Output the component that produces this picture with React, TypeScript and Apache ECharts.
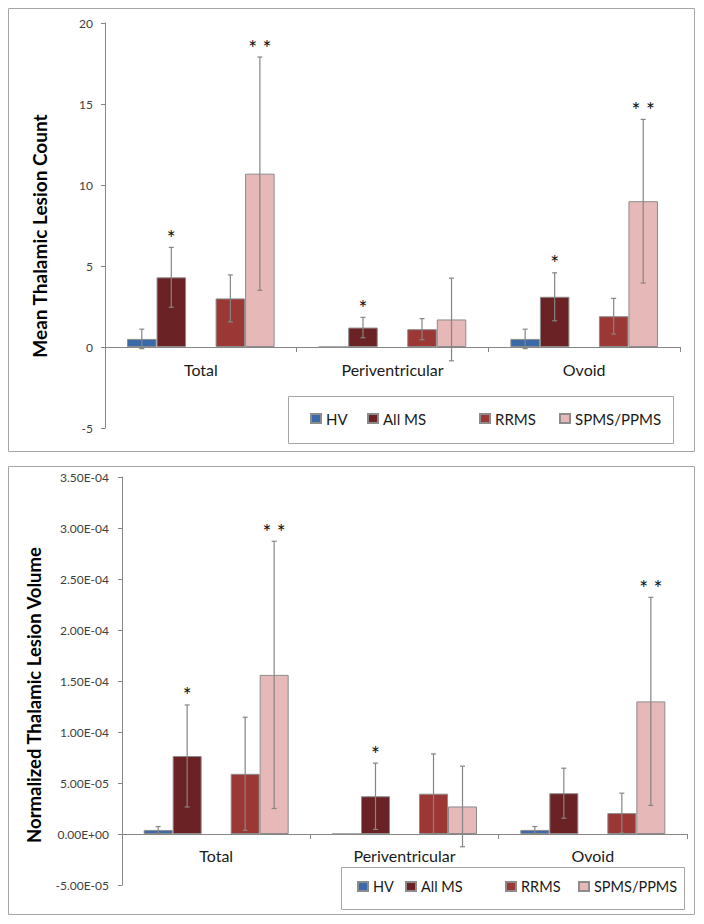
import React, { useEffect, useRef } from "react";
import * as echarts from "echarts";

const categories = ["Total", "Periventricular", "Ovoid"];
const seriesNames = ["HV", "All MS", "RRMS", "SPMS/PPMS"];

// Mean thalamic lesion count
const countHV = [0.5, 0, 0.5];
const countHVErr = [0.6, 0, 0.6];
const countAllMS = [4.3, 1.2, 3.1];
const countAllMSErr = [1.85, 0.63, 1.48];
const countRRMS = [3.0, 1.1, 1.9];
const countRRMSErr = [1.45, 0.65, 1.1];
const countSP = [10.7, 1.7, 9.0];
const countSPErr = [7.2, 2.55, 5.05];
const countStarsAllMS = ["*", "*", "*"];
const countStarsSP = ["**", "", "**"];

// Normalized thalamic lesion volume
const volHV = [4e-6, 0, 4e-6];
const volHVErr = [3.3e-6, 0, 3.3e-6];
const volAllMS = [7.65e-5, 3.7e-5, 4.0e-5];
const volAllMSErr = [5.0e-5, 3.25e-5, 2.45e-5];
const volRRMS = [5.9e-5, 3.95e-5, 2.05e-5];
const volRRMSErr = [5.55e-5, 3.9e-5, 1.95e-5];
const volSP = [1.56e-4, 2.7e-5, 1.3e-4];
const volSPErr = [1.31e-4, 3.95e-5, 1.02e-4];
const volStarsAllMS = ["*", "*", ""];
const volStarsSP = ["**", "", "**"];

const countTicks = { min: -5, max: 20, interval: 5 };
const volTicks = { min: -0.00005, max: 0.00035, interval: 0.00005 };

const COLORS = ["#3a6aa8", "#6a2224", "#9b3735", "#e6b8b7"];
const FONT = "Lato, 'Open Sans', sans-serif";
const CAT_GAP = 0.23;

function sci(v: number): string {
  if (Math.abs(v) < 1e-12) return "0.00E+00";
  const s = v.toExponential(2);
  const parts = s.split("e");
  const sign = parts[1][0] === "-" ? "-" : "+";
  const d = parts[1].replace(/[+-]/, "");
  return parts[0] + "E" + sign + (d.length < 2 ? "0" + d : d);
}

type Group = {
  vals: number[][];
  errs: number[][];
  stars: string[][];
};

function buildErrData(g: Group) {
  // slots: HV=0, All MS=1, (empty)=2, RRMS=3, SPMS=4
  const slots = [0, 1, 3, 4];
  const data: any[] = [];
  const starList: string[] = [];
  g.vals.forEach((arr, si) => {
    arr.forEach((v, ci) => {
      const e = g.errs[si][ci];
      const star = g.stars[si] ? g.stars[si][ci] : "";
      if (e > 0 || star) {
        data.push([ci, v, e, slots[si]]);
        starList.push(star);
      }
    });
  });
  return { data, starList };
}

export default function App() {
  const ref = useRef<HTMLDivElement>(null);
  useEffect(() => {
    if (!ref.current) return;
    const chart = echarts.init(ref.current, undefined, { renderer: "svg" });

    const blank = ["", "", ""];
    const top: Group = {
      vals: [countHV, countAllMS, countRRMS, countSP],
      errs: [countHVErr, countAllMSErr, countRRMSErr, countSPErr],
      stars: [blank, countStarsAllMS, blank, countStarsSP],
    };
    const bot: Group = {
      vals: [volHV, volAllMS, volRRMS, volSP],
      errs: [volHVErr, volAllMSErr, volRRMSErr, volSPErr],
      stars: [blank, volStarsAllMS, blank, volStarsSP],
    };

    const makeErrSeries = (g: Group, gi: number) => {
      const { data, starList } = buildErrData(g);
      return {
        type: "custom",
        xAxisIndex: gi,
        yAxisIndex: gi,
        z: 5,
        silent: true,
        encode: { x: 0, y: 1 },
        data,
        renderItem: (params: any, api: any) => {
          const cat = api.value(0);
          const v = api.value(1);
          const e = api.value(2);
          const slot = api.value(3);
          const band = api.size([1, 0])[0];
          const bw = (band * (1 - CAT_GAP)) / 5;
          const c = api.coord([cat, v]);
          const x = c[0] + (slot - 2) * bw;
          const yT = api.coord([cat, v + e])[1];
          const yB = api.coord([cat, v - e])[1];
          const st = { stroke: "#858585", lineWidth: 1.2 };
          const children: any[] = [];
          if (e > 0) {
            children.push(
              { type: "line", shape: { x1: x, y1: yT, x2: x, y2: yB }, style: st },
              { type: "line", shape: { x1: x - 2.5, y1: yT, x2: x + 2.5, y2: yT }, style: st },
              { type: "line", shape: { x1: x - 2.5, y1: yB, x2: x + 2.5, y2: yB }, style: st }
            );
          }
          const star = starList[params.dataIndex];
          if (star) {
            children.push({
              type: "text",
              x: x,
              y: yT - 10,
              style: {
                text: star.split("").join(" "),
                fontFamily: FONT,
                fontSize: 21,
                fill: "#111111",
                stroke: "none",
                align: "center",
                verticalAlign: "middle",
              },
            });
          }
          return { type: "group", children };
        },
      };
    };

    const makeBars = (g: Group, gi: number) => {
      const names = [seriesNames[0], seriesNames[1], "", seriesNames[2], seriesNames[3]];
      const vals = [g.vals[0], g.vals[1], [null, null, null], g.vals[2], g.vals[3]];
      const cols = [COLORS[0], COLORS[1], "#ffffff", COLORS[2], COLORS[3]];
      return names.map((n, i) => ({
        type: "bar",
        name: n,
        xAxisIndex: gi,
        yAxisIndex: gi,
        data: vals[i],
        barGap: "0%",
        barCategoryGap: "23%",
        itemStyle: { color: cols[i], borderColor: "#8c8c8c", borderWidth: 1 },
        silent: true,
      }));
    };

    const legendItem = (name: string, left: number, centerY: number, size: number) => ({
      data: [name],
      left,
      top: centerY - 9,
      padding: 0,
      icon: "rect",
      itemWidth: 10,
      itemHeight: 9,
      selectedMode: false,
      textStyle: { fontFamily: FONT, fontSize: size, color: "#1a1a1a" },
    });

    const axisLine = { lineStyle: { color: "#868686", width: 1 } };

    const option: any = {
      animation: false,
      backgroundColor: "#ffffff",
      grid: [
        { left: 105, width: 575, top: 23, height: 405 },
        { left: 122, width: 565, top: 477, height: 408 },
      ],
      xAxis: [0, 1].map((i) => ({
        type: "category",
        gridIndex: i,
        data: categories,
        position: "bottom",
        offset: i === 0 ? -81 : -51,
        axisLine: { onZero: false, ...axisLine },
        axisTick: { show: true, length: 5, lineStyle: { color: "#868686" }, alignWithLabel: false },
        axisLabel: {
          fontFamily: FONT,
          fontSize: 16,
          color: "#1a1a1a",
          margin: i === 0 ? 14 : 13,
        },
        splitLine: { show: false },
      })),
      yAxis: [
        {
          type: "value",
          gridIndex: 0,
          min: countTicks.min,
          max: countTicks.max,
          interval: countTicks.interval,
          axisLine: { show: true, ...axisLine },
          axisTick: { show: true, length: 4, lineStyle: { color: "#868686" } },
          axisLabel: { fontFamily: FONT, fontSize: 12, color: "#404040", margin: 12 },
          splitLine: { show: false },
          name: "Mean Thalamic Lesion Count",
          nameLocation: "middle",
          nameGap: 56,
          nameTextStyle: {
            fontFamily: FONT,
            fontSize: 19,
            fontWeight: "bold",
            color: "#000",
            padding: [0, 21, 0, 0],
          },
        },
        {
          type: "value",
          gridIndex: 1,
          min: volTicks.min,
          max: volTicks.max,
          interval: volTicks.interval,
          axisLine: { show: true, ...axisLine },
          axisTick: { show: true, length: 4, lineStyle: { color: "#868686" } },
          axisLabel: {
            fontFamily: FONT,
            fontSize: 12,
            color: "#404040",
            margin: 13,
            formatter: (v: number) => sci(v),
          },
          splitLine: { show: false },
          name: "Normalized Thalamic Lesion Volume",
          nameLocation: "middle",
          nameGap: 79,
          nameTextStyle: {
            fontFamily: FONT,
            fontSize: 18.5,
            fontWeight: "bold",
            color: "#000",
            padding: [0, 28, 0, 0],
          },
        },
      ],
      legend: [
        legendItem("HV", 310, 420, 15),
        legendItem("All MS", 367, 420, 15),
        legendItem("RRMS", 479, 420, 15),
        legendItem("SPMS/PPMS", 559, 420, 15),
        legendItem("HV", 357, 888, 14.5),
        legendItem("All MS", 405, 888, 14.5),
        legendItem("RRMS", 505, 888, 14.5),
        legendItem("SPMS/PPMS", 578, 888, 14.5),
      ],
      graphic: [
        {
          type: "rect",
          z: -1,
          shape: { x: 8.5, y: 8.5, width: 686, height: 443 },
          style: { fill: "none", stroke: "#a6a6a6", lineWidth: 1 },
          silent: true,
        },
        {
          type: "rect",
          z: -1,
          shape: { x: 8.5, y: 466.5, width: 686, height: 448 },
          style: { fill: "none", stroke: "#a6a6a6", lineWidth: 1 },
          silent: true,
        },
        {
          type: "rect",
          z: -1,
          shape: { x: 288.5, y: 396.5, width: 385, height: 47 },
          style: { fill: "#fff", stroke: "#a6a6a6", lineWidth: 1 },
          silent: true,
        },
        {
          type: "rect",
          z: -1,
          shape: { x: 341.5, y: 867.5, width: 343, height: 42 },
          style: { fill: "#fff", stroke: "#a6a6a6", lineWidth: 1 },
          silent: true,
        },
      ],
      series: [
        ...makeBars(top, 0),
        ...makeBars(bot, 1),
        makeErrSeries(top, 0),
        makeErrSeries(bot, 1),
      ],
    };

    chart.setOption(option);
    return () => chart.dispose();
  }, []);

  return (
    <div
      ref={ref}
      style={{ position: "absolute", left: 0, top: 0, width: 704, height: 924, background: "#fff" }}
    />
  );
}
